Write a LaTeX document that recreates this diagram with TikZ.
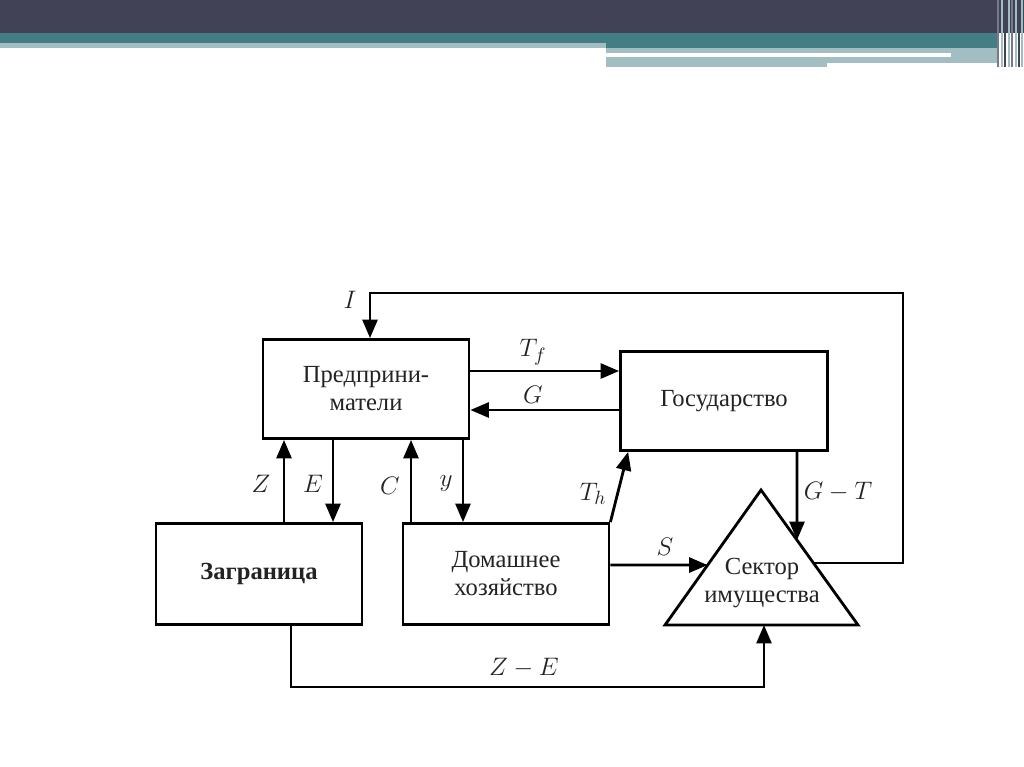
\documentclass[tikz,border=0pt]{standalone}
\usepackage{fontspec}
\setmainfont{Liberation Serif}
\usetikzlibrary{arrows.meta,positioning,calc}
\definecolor{KrNavy}{RGB}{65,66,86}
\definecolor{KrTeal}{RGB}{66,126,132}
\definecolor{KrPale}{RGB}{163,190,194}
\definecolor{KrStripe}{RGB}{120,122,140}
\definecolor{KrInk}{RGB}{35,35,35}
\tikzset{
  kr/box/.style={
    draw=black,
    line width=1.6pt,
    fill=white,
    align=center,
    text=KrInk,
    minimum width=4.12cm,
    minimum height=1.98cm,
    inner sep=0pt,
    font=\fontsize{14}{16}\selectfont
  },
  kr/text/.style={align=center, text=KrInk, font=\fontsize{14}{16}\selectfont},
  kr/arrow/.style={-{Triangle[length=10.5pt,width=8.5pt]}, line width=1.6pt, draw=black},
  kr/line/.style={line width=1.6pt, draw=black},
  kr/lbl/.style={font=\fontsize{15}{17}\selectfont, text=KrInk, inner sep=1pt}
}

\begin{document}
\begin{tikzpicture}[x=0.02cm,y=-0.02cm]
  \useasboundingbox (0,0) rectangle (1024,767);
  % slide header bands
  \fill[KrNavy] (0,0) rectangle (1024,33);
  \fill[KrTeal] (0,33) rectangle (997,48);
  \fill[KrPale] (0,43) rectangle (606,48);
  \fill[KrPale] (606,48) rectangle (997,53);
  \fill[KrPale] (606,57) rectangle (827,67);
  \fill[KrPale] (827,57) rectangle (997,63);
  \fill[KrPale] (951,53) rectangle (997,57);
  \foreach \x/\c in {997/KrStripe,1001/KrPale,1004/KrNavy,1008/KrPale,1011/KrStripe,1015/KrPale,1018/KrNavy,1021/KrPale}{
    \fill[\c] (\x,0) rectangle ++(2,67);
  }

  % blocks
  \node[kr/box] (pred) at (366,389) {Предприни-\\матели};
  \node[kr/box,minimum width=4.14cm] (gos) at (724,401) {Государство};
  \node[kr/box,minimum height=2.02cm] (zagr) at (259,574) {\textbf{Заграница}};
  \node[kr/box,minimum height=2.02cm] (dom) at (506,574) {Домашнее\\хозяйство};

  % property sector
  \coordinate (sA) at (761,490);
  \coordinate (sB) at (665,625);
  \coordinate (sC) at (858,625);
  \draw[kr/line,line join=miter] (sA) -- (sB) -- (sC) -- cycle;
  \node[kr/text] (sek) at (762,583) {Сектор\\имущества};
  \coordinate (sL) at ($(sB)!0.444!(sA)$);
  \coordinate (sR) at ($(sC)!0.459!(sA)$);
  \coordinate (sGT) at ($(sA)!0.371!(sC)$);
  \coordinate (sZE) at (764,625);
  \coordinate (loopNE) at (903,293);
  \coordinate (zeCorner) at (764,687);

  % flows
  \draw[kr/arrow] (sR) -| (loopNE) -| ($(pred.north)+(4,0)$);
  \draw[kr/arrow] (pred.east |- 0,371) -- (gos.west |- 0,371);
  \draw[kr/arrow] (gos.west |- 0,410) -- (pred.east |- 0,410);
  \draw[kr/arrow] (zagr.north -| 284,0) -- (pred.south -| 284,0);
  \draw[kr/arrow] (pred.south -| 333,0) -- (zagr.north -| 333,0);
  \draw[kr/arrow] (dom.north -| 411,0) -- (pred.south -| 411,0);
  \draw[kr/arrow] (pred.south -| 463,0) -- (dom.north -| 463,0);
  \draw[kr/arrow] (dom.north east) -- ($(gos.south west)+(9,0)$);
  \draw[kr/arrow] (dom.east |- 0,565) -- (sL);
  \draw[kr/arrow] (gos.south -| 797,0) -- (sGT);
  \draw[kr/arrow] (zagr.south -| 291,0) |- (zeCorner) -- (sZE);

  % flow labels
  \node[kr/lbl] (lblI) at (350,300) {$I$};
  \node[kr/lbl] (lblTf) at (533,352) {$T_f$};
  \node[kr/lbl] (lblG) at (533,395) {$G$};
  \node[kr/lbl] (lblZ) at (261,484) {$Z$};
  \node[kr/lbl] (lblE) at (313,484) {$E$};
  \node[kr/lbl] (lblC) at (390,486) {$C$};
  \node[kr/lbl] (lbly) at (446,484) {$y$};
  \node[kr/lbl] (lblTh) at (593,494) {$T_h$};
  \node[kr/lbl] (lblS) at (665,547) {$S$};
  \node[kr/lbl] (lblGT) at (838,492) {$G-T$};
  \node[kr/lbl] (lblZE) at (524,668) {$Z-E$};
\end{tikzpicture}
\end{document}
